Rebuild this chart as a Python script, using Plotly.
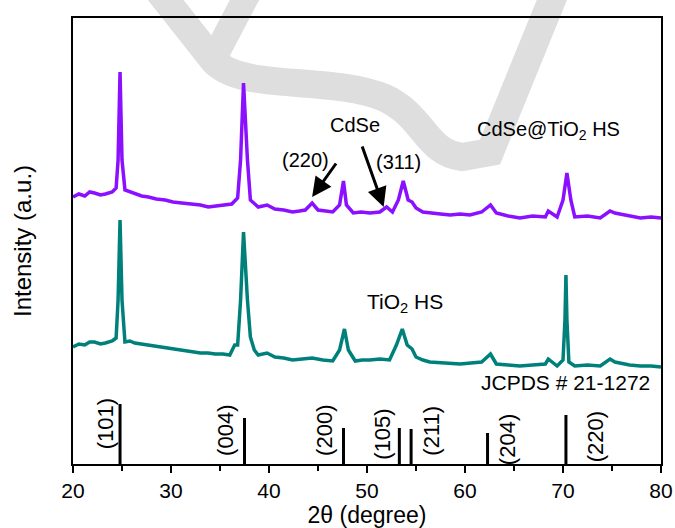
import plotly.graph_objects as go

# ---- data (2θ in degree, intensity in a.u.) ----
two_theta_hs = [20.0, 20.6, 21.2, 21.7, 22.2, 22.8, 23.3, 24.0, 24.4, 24.6, 24.8, 25.0, 25.3, 25.8,
                26.3, 27.0, 27.7, 28.5, 29.4, 30.2, 31.1, 32.0, 33.0, 33.8, 34.5, 35.4, 36.2, 36.8,
                37.1, 37.4, 37.8, 38.1, 38.9, 39.8, 40.6, 41.5, 42.4, 43.1, 43.7, 44.4, 45.0, 45.8,
                46.5, 47.2, 47.6, 47.9, 48.6, 49.4, 50.3, 51.3, 52.0, 52.6, 53.2, 53.7, 54.2, 54.6,
                55.0, 55.7, 56.4, 57.5, 58.5, 59.5, 60.5, 61.7, 62.6, 63.2, 64.4, 65.6, 66.9, 68.2,
                68.5, 69.4, 70.0, 70.4, 70.8, 71.2, 72.5, 73.8, 74.8, 75.3, 75.8, 76.8, 77.9, 79.0,
                80.0]
intensity_cdse_tio2 = [267, 270, 268, 272, 271, 269, 270, 272, 276, 304, 392, 304, 274, 272,
                       270, 268, 267, 265, 264, 262, 261, 260, 259, 257, 258, 259, 260, 266,
                       304, 381, 304, 264, 257, 259, 255, 254, 252, 253, 254, 261, 254, 253,
                       252, 259, 283, 259, 251, 252, 251, 252, 257, 252, 264, 283, 264, 262,
                       256, 252, 251, 250, 249, 250, 249, 252, 259, 251, 248, 246, 248, 247,
                       253, 247, 264, 291, 264, 247, 248, 246, 253, 251, 250, 248, 246, 247,
                       246]

two_theta_tio2 = [20.0, 20.6, 21.2, 21.7, 22.2, 22.8, 23.3, 24.0, 24.4, 24.6, 24.8, 25.0, 25.3, 25.8,
                  26.3, 27.0, 27.7, 28.5, 29.4, 30.2, 31.1, 32.0, 33.0, 33.8, 34.5, 35.3, 36.0, 36.5,
                  36.8, 37.1, 37.4, 37.8, 38.1, 38.5, 38.9, 39.8, 40.6, 41.5, 42.4, 43.4, 44.4, 45.5,
                  46.5, 47.2, 47.7, 48.1, 48.8, 49.5, 50.3, 51.3, 52.3, 53.0, 53.6, 54.1, 54.6, 55.0,
                  55.7, 56.4, 58.0, 59.5, 60.6, 61.7, 62.6, 63.2, 64.4, 65.6, 66.9, 68.2, 68.5, 69.4,
                  70.0, 70.2, 70.3, 70.4, 70.6, 71.2, 72.5, 73.8, 74.8, 75.3, 75.8, 76.8, 77.9, 79.0,
                  80.0]
intensity_tio2 = [117, 120, 119, 122, 122, 120, 121, 123, 126, 164, 244, 164, 122, 123,
                  121, 120, 119, 117, 116, 115, 114, 112, 111, 111, 110, 110, 109, 119,
                  119, 164, 232, 164, 127, 114, 109, 111, 107, 106, 104, 105, 106, 104,
                  103, 114, 135, 114, 103, 104, 104, 105, 104, 119, 135, 119, 115, 107,
                  104, 102, 101, 100, 101, 102, 110, 100, 99, 98, 99, 100, 105, 98,
                  104, 144, 189, 144, 102, 98, 99, 98, 105, 102, 101, 99, 98, 98,
                  97]

jcpds_two_theta = [24.8, 37.5, 47.6, 53.3, 54.5, 62.3, 70.3]
jcpds_intensity = [60, 46, 36, 36, 35, 31, 49]
jcpds_hkl = ["(101)", "(004)", "(200)", "(105)", "(211)", "(204)", "(220)"]

x_ticks = [20, 30, 40, 50, 60, 70, 80]

# ---- layout helpers (positions, not data) ----
hkl_label_x = [23.3, 35.5, 45.6, 51.5, 56.5, 64.3, 73.3]
hkl_label_y = [40, 34, 34, 30, 33, 24, 27]

FONT = "Liberation Sans, Arial, sans-serif"
PURPLE = "#8a10ff"
TEAL = "#00807a"

fig = go.Figure()

fig.add_trace(go.Scatter(x=two_theta_hs, y=intensity_cdse_tio2, mode="lines",
                         line=dict(color=PURPLE, width=3.5), showlegend=False))
fig.add_trace(go.Scatter(x=two_theta_tio2, y=intensity_tio2, mode="lines",
                         line=dict(color=TEAL, width=3.5), showlegend=False))

stick_x, stick_y = [], []
for p, h in zip(jcpds_two_theta, jcpds_intensity):
    stick_x += [p, p, None]
    stick_y += [0, h, None]
fig.add_trace(go.Scatter(x=stick_x, y=stick_y, mode="lines",
                         line=dict(color="black", width=3), showlegend=False))

annotations = []
for lbl, lx, ly in zip(jcpds_hkl, hkl_label_x, hkl_label_y):
    annotations.append(dict(x=lx, y=ly, text=lbl, textangle=-90, showarrow=False,
                            font=dict(size=22, color="black", family=FONT)))

annotations += [
    dict(x=48.8, y=339, text="CdSe", showarrow=False, font=dict(size=20, family=FONT, color="black")),
    dict(x=43.7, y=304, text="(220)", showarrow=False, font=dict(size=20, family=FONT, color="black")),
    dict(x=53.2, y=302, text="(311)", showarrow=False, font=dict(size=20, family=FONT, color="black")),
    dict(x=68.5, y=334, text="CdSe@TiO<sub>2</sub> HS", showarrow=False,
         font=dict(size=20, family=FONT, color="black")),
    dict(x=53.9, y=161, text="TiO<sub>2</sub> HS", showarrow=False,
         font=dict(size=21, family=FONT, color="black")),
    dict(x=79.1, y=82, text="JCPDS # 21-1272", showarrow=False, xanchor="right",
         font=dict(size=21, family=FONT, color="black")),
    dict(x=44.4, y=267, ax=25, ay=-35, text="", showarrow=True, arrowhead=2,
         arrowsize=1.3, arrowwidth=3, arrowcolor="black"),
    dict(x=51.7, y=257, ax=-22, ay=-62, text="", showarrow=True, arrowhead=2,
         arrowsize=1.3, arrowwidth=3, arrowcolor="black"),
]

# background watermark stroke (paper coordinates, from screen pixels)
def px(xp, yp):
    return f"{(xp - 73) / 588:.4f},{(464 - yp) / 446:.4f}"

wm_path = ("M " + px(150, -20) + " L " + px(213, 60) +
           " C " + px(240, 92) + " " + px(330, 75) + " " + px(385, 98) +
           " C " + px(425, 117) + " " + px(425, 152) + " " + px(462, 157) +
           " L " + px(490, 152) + " L " + px(560, -20))
wm_path2 = "M " + px(213, 60) + " L " + px(255, -20)

shapes = [
    dict(type="path", path=wm_path, xref="paper", yref="paper", layer="below",
         line=dict(color="#dedede", width=28)),
    dict(type="path", path=wm_path2, xref="paper", yref="paper", layer="below",
         line=dict(color="#dedede", width=26)),
]

fig.update_layout(
    width=675, height=528,
    margin=dict(l=73, r=14, t=18, b=64),
    paper_bgcolor="white", plot_bgcolor="rgba(0,0,0,0)",
    font=dict(family=FONT, size=20, color="black"),
    annotations=annotations, shapes=shapes,
    xaxis=dict(range=[20, 80], tickvals=x_ticks, ticks="outside", ticklen=7, tickwidth=2,
               tickcolor="black", showline=True, linecolor="black", linewidth=2, mirror=True,
               showgrid=False, zeroline=False, automargin=False, ticklabeloverflow="allow",
               minor=dict(dtick=5, ticks="outside", ticklen=5, tickwidth=2, tickcolor="black"),
               tickfont=dict(size=21, family=FONT),
               title=dict(text="2θ (degree)", font=dict(size=23, family=FONT), standoff=14)),
    yaxis=dict(range=[0, 446], showticklabels=False, ticks="", showline=True, linecolor="black",
               linewidth=2, mirror=True, showgrid=False, zeroline=False, automargin=False,
               title=dict(text="Intensity (a.u.)", font=dict(size=24, family=FONT), standoff=33)),
)

# remove the default 8px page margin so the figure fills the 675x528 window exactly
fig.write_html(
    "out.html",
    config={"displayModeBar": False},
    post_script="document.body.style.margin='0';"
                "document.documentElement.style.overflow='hidden';"
                "document.body.style.overflow='hidden';",
)
